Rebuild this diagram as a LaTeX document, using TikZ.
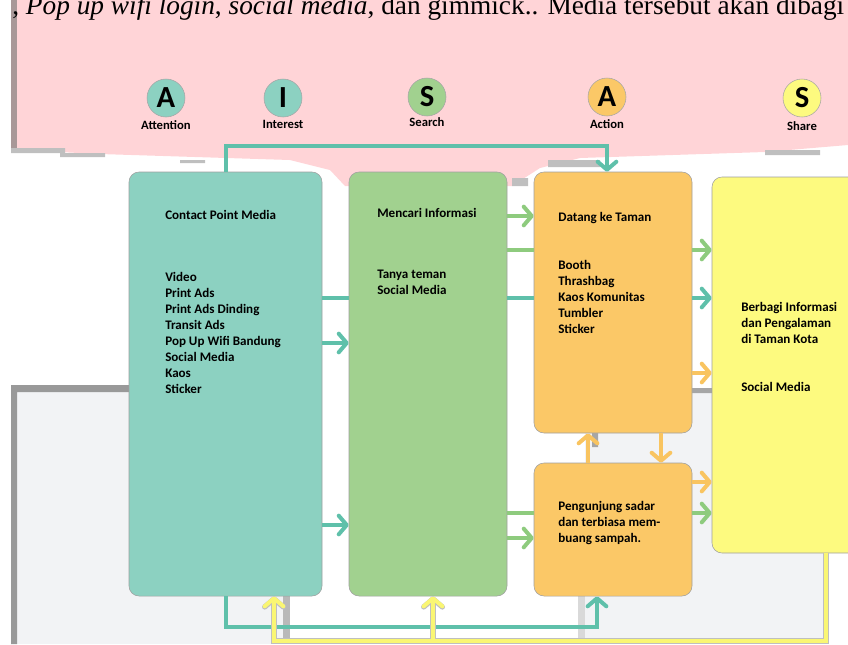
\documentclass[tikz,border=0pt]{standalone}
\usepackage{fontspec}
\setmainfont{Liberation Serif}
\newfontfamily\calfont{Carlito}
\usepackage{xcolor}
\usepackage{tikz}
\usetikzlibrary{arrows.meta}
\usetikzlibrary{positioning}

\definecolor{pinkbg}{RGB}{255,212,215}
\definecolor{pinkedge}{RGB}{168,152,152}
\definecolor{greybg}{RGB}{242,243,245}
\definecolor{frame}{RGB}{153,153,153}
\definecolor{tealfill}{RGB}{140,209,193}
\definecolor{tealline}{RGB}{95,192,170}
\definecolor{greenfill}{RGB}{161,209,143}
\definecolor{greenline}{RGB}{142,203,126}
\definecolor{orangefill}{RGB}{251,200,103}
\definecolor{orangeline}{RGB}{249,196,96}
\definecolor{yellowfill}{RGB}{253,250,127}
\definecolor{yellowline}{RGB}{250,246,115}

\begin{document}
\begin{tikzpicture}[x=0.75pt,y=-0.75pt,
		box/.style={draw=gray!75,line width=0.4pt,rounded corners=7.5pt,inner sep=0pt},
		txt/.style={font=\calfont\bfseries\fontsize{9.8}{12}\selectfont,anchor=base west,align=left,inner sep=0pt},
		stage/.style={circle,draw=gray!70,line width=0.4pt,minimum size=28.5pt,inner sep=0pt,
			font=\calfont\bfseries\fontsize{23}{23}\selectfont},
		stagename/.style={font=\calfont\bfseries\fontsize{9.5}{11}\selectfont,inner sep=0pt},
		ln/.style={line width=3pt},
		arr/.style={line width=3pt,-{Straight Barb[length=6pt,width=14pt,round]}}]
		\useasboundingbox (0,0) rectangle (848,644);
		\clip (0,0) rectangle (848,644);
		% background of the scan
		\fill[greybg] (12,385) rectangle (290,644);
		\fill[frame] (11,385) rectangle (17,644) (11,385) rectangle (135,392);
		\fill[gray!55] (283,596) rectangle (290,644);
		\fill[greybg] (585,388) rectangle (823,638);
		\draw[gray!60] (823,388) -- (823,638) -- (585,638);
		\fill[gray!30] (578,596) rectangle (585,644);
		\fill[gray!70] (592,433) rectangle (598,447) (692,388) rectangle (712,393);
		\fill[pinkbg] (17,0) -- (848,0) -- (848,145) -- (765,152) -- (580,158) -- (540,168)
			-- (512,186) -- (345,186) -- (330,170) -- (290,160) -- (100,154) -- (17,150) -- cycle;
		\fill[pinkedge] (11,0) rectangle (17,150);
		\fill[gray!50] (11,148) rectangle (65,153) (60,153) rectangle (105,157)
			(180,160) rectangle (205,163) (512,178) rectangle (528,186) (548,160) rectangle (600,167)
			(765,150) rectangle (820,155);
		\node[anchor=base west,inner sep=0pt,font=\fontsize{20.5}{20.5}\selectfont] (intro) at (12,14)
			{, \textit{Pop up wifi login}, \textit{social media}, dan gimmick.. Media tersebut akan dibagi};

		% AISAS
		\node[stage,fill=tealfill] (att) at (166,98) {A};
		\node[stage,fill=tealfill] (int) at (283,98) {I};
		\node[stage,fill=greenfill] (sea) at (427,97) {S};
		\node[stage,fill=orangefill] (act) at (607,97) {A};
		\node[stage,fill=yellowfill] (sha) at (802,98) {S};
		\node[stagename,below=2pt of att] (attname) {Attention};
		\node[stagename,below=2pt of int] (intname) {Interest};
		\node[stagename,below=1pt of sea] (seaname) {Search};
		\node[stagename,below=2pt of act] (actname) {Action};
		\node[stagename,below=3pt of sha] (shaname) {Share};

		% boxes
		\node[box,fill=tealfill,minimum width=144.75pt,minimum height=318pt] (media) at (225.5,384) {};
		\node[box,fill=greenfill,minimum width=118.5pt,minimum height=318pt] (search) at (428,384) {};
		\node[box,fill=orangefill,minimum width=118.5pt,minimum height=195.75pt] (visit) at (613,302.5) {};
		\node[box,fill=orangefill,minimum width=118.5pt,minimum height=99.75pt] (aware) at (613,529.5) {};
		\node[box,fill=yellowfill,minimum width=118.5pt,minimum height=282pt] (share) at (791,365) {};

		% base of a text block = its last line
		\node[txt] (mediahead) at (165,219) {Contact Point Media};
		\node[txt] (medialist) at (165,393) {Video\\Print Ads\\Print Ads Dinding\\Transit Ads\\Pop Up Wifi Bandung\\Social Media\\Kaos\\Sticker};
		\node[txt] (searchhead) at (377,217) {Mencari Informasi};
		\node[txt] (searchlist) at (377,294) {Tanya teman\\Social Media};
		\node[txt] (visithead) at (558,221) {Datang ke Taman};
		\node[txt] (visitlist) at (558,333) {Booth\\Thrashbag\\Kaos Komunitas\\Tumbler\\Sticker};
		\node[txt] (awaretext) at (558,542) {Pengunjung sadar\\dan terbiasa mem-\\buang sampah.};
		\node[txt] (sharetext) at (741,343) {Berbagi Informasi\\dan Pengalaman\\di Taman Kota};
		\node[txt] (sharemedia) at (741,391) {Social Media};

		% teal
		\draw[arr,tealline] (media.north -| 226,0) -- (226,146) -| (visit.north -| 607,0);
		\draw[ln,tealline] (media.east |- 0,298) -- (search.west |- 0,298);
		\draw[ln,tealline] (search.east |- 0,298) -- (visit.west |- 0,298);
		\draw[arr,tealline] (visit.east |- 0,298) -- (share.west |- 0,298);
		\draw[arr,tealline] (media.east |- 0,343) -- (search.west |- 0,343);
		\draw[arr,tealline] (media.east |- 0,525) -- (search.west |- 0,525);
		\draw[arr,tealline] (media.south -| 226,0) -- (226,627) -| (aware.south -| 597,0);
		% green
		\draw[arr,greenline] (search.east |- 0,216) -- (visit.west |- 0,216);
		\draw[ln,greenline] (search.east |- 0,250) -- (visit.west |- 0,250);
		\draw[arr,greenline] (visit.east |- 0,250) -- (share.west |- 0,250);
		\draw[ln,greenline] (search.east |- 0,513) -- (aware.west |- 0,513);
		\draw[arr,greenline] (aware.east |- 0,513) -- (share.west |- 0,513);
		\draw[arr,greenline] (search.east |- 0,538) -- (aware.west |- 0,538);
		% orange
		\draw[arr,orangeline] (visit.east |- 0,373) -- (share.west |- 0,373);
		\draw[arr,orangeline] (aware.east |- 0,482) -- (share.west |- 0,482);
		\draw[arr,orangeline] (visit.south -| 661,0) -- (aware.north -| 661,0);
		\draw[arr,orangeline] (aware.north -| 588,0) -- (visit.south -| 588,0);
		% yellow
		\draw[arr,yellowline,preaction={draw=gray!50,line width=4pt}] (share.south -| 826,0) -- (826,641) -| (media.south -| 274,0);
		\draw[arr,yellowline,preaction={draw=gray!50,line width=4pt}] (433,641) -- (search.south -| 433,0);
		\draw[ln,yellowline] (300,641) -- (820,641);
	\end{tikzpicture}
\end{document}
